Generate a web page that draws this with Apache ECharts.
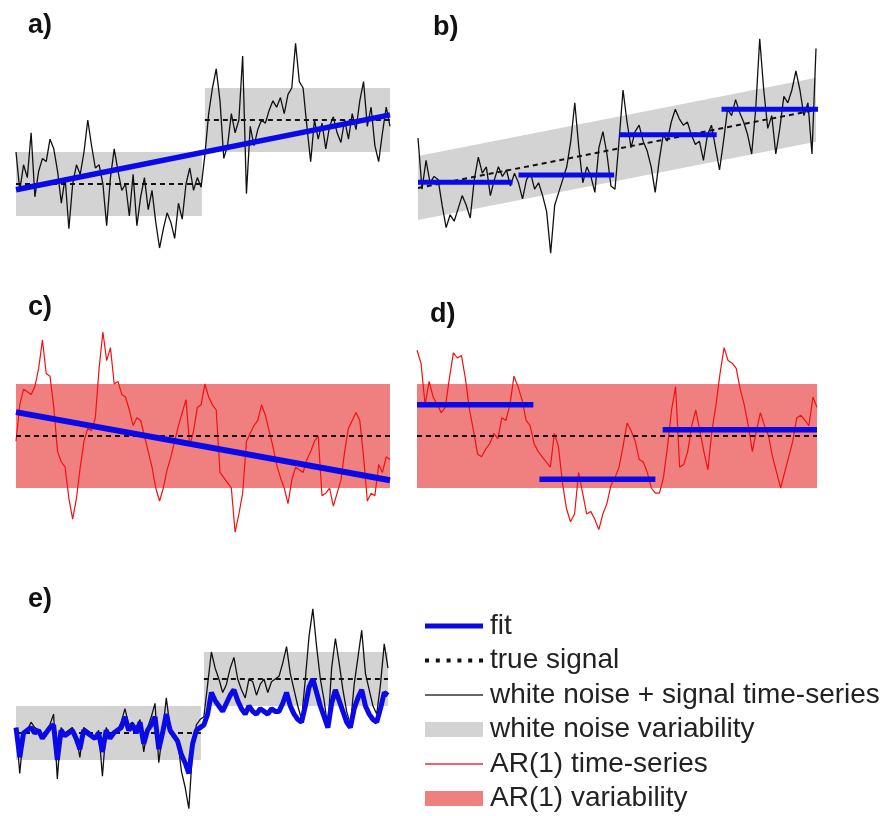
<!DOCTYPE html>
<html><head><meta charset="utf-8">
<script src="https://cdn.jsdelivr.net/npm/echarts@6/dist/echarts.min.js"></script>
<style>html,body{margin:0;padding:0;background:#fff}#c{width:886px;height:816px}</style>
</head><body><div id="c"></div>
<script>
// ---------------- data ----------------
const panelLabels = ['a)', 'b)', 'c)', 'd)', 'e)'];
const legendNames = ['fit', 'true signal', 'white noise + signal time-series', 'white noise variability', 'AR(1) time-series', 'AR(1) variability'];

// panel a: white noise + step signal
const aSeries = [0.5,-0.1,0.3,0.1,0.8,-0.2,0.2,0.4,0.35,0.7,0.55,0.2,-0.3,0.1,-0.7,0.0,0.3,0.15,0.5,1.0,
 0.6,0.25,0.3,0.0,-0.65,0.1,0.55,0.2,-0.1,0.0,-0.5,0.15,-0.65,-0.2,0.1,-0.4,-0.1,-0.6,-1.0,-0.7,
 -0.45,-0.6,-0.85,-0.3,-0.55,0.0,0.25,-0.1,0.1,-0.05,0.45,1.1,1.5,1.8,1.3,0.4,0.6,1.1,0.8,1.0,
 2.0,-0.15,0.9,0.6,0.85,1.0,0.95,1.15,1.3,1.2,1.35,1.1,1.4,1.5,2.2,1.6,1.5,0.9,0.35,1.0,
 0.7,0.95,0.55,0.9,1.05,0.8,0.65,1.0,0.7,1.1,0.85,1.3,1.6,0.9,1.2,0.6,0.35,0.8,1.2,0.9];
const aTrue = [[[0,0],[49.2,0]], [[50,1],[99,1]]];
const aBands = [[0,49.2,-0.5,0.5,-0.5,0.5],[50,99,0.5,1.5,0.5,1.5]];
const aFit = [[[0,-0.09],[99,1.08]]];

// panel b: white noise + trend
const bSeries = [0.75,-0.05,0.4,0.05,0.15,0.1,-0.3,-0.65,-0.45,-0.55,-0.35,-0.15,-0.3,-0.5,0.1,0.45,0.2,0.3,-0.15,0.1,
 0.3,0.15,0.25,0.0,0.2,0.05,-0.2,0.1,0.2,-0.05,0.05,-0.15,-0.4,-1.05,-0.3,-0.1,0.1,0.3,0.7,1.3,
 0.6,0.05,0.3,0.15,-0.1,0.6,0.85,0.5,0.0,-0.05,0.7,1.5,1.0,0.6,0.85,0.95,0.7,0.55,0.3,-0.1,
 0.4,0.8,0.7,1.0,1.2,1.05,0.95,1.0,0.8,0.65,0.7,0.4,0.8,0.95,0.6,0.25,0.7,1.2,1.1,1.35,
 1.15,1.0,0.8,0.5,1.2,2.3,1.5,0.9,1.1,0.5,0.9,1.4,1.3,1.5,1.8,1.5,1.1,1.3,0.5,2.15];
const bTrue = [[[0,-0.03],[99,1.19]]];
const bBands = [[0,99,-0.53,0.47,0.69,1.69]];
const bFit = [[[0,0.06],[23.5,0.06]], [[25,0.17],[48.8,0.17]], [[50,0.8],[74.3,0.8]], [[75.5,1.2],[99.5,1.2]]];

// panel c: AR(1), trend fit
const cSeries = [-0.1,0.6,0.9,0.85,0.8,0.95,1.3,1.85,1.2,1.15,0.55,-0.3,-0.5,-0.6,-1.2,-1.6,-1.2,-0.6,-0.1,0.15,
 0.1,0.35,1.3,2.0,1.45,1.7,1.0,1.05,0.8,0.75,0.5,0.2,0.35,0.3,0.0,-0.3,-0.6,-1.0,-1.25,-1.0,
 -0.65,-0.4,-0.1,0.2,0.45,0.7,-0.2,0.1,0.55,0.6,1.0,0.75,0.6,0.5,-0.7,-0.8,-0.9,-1.0,-1.85,-1.5,
 -1.1,-0.1,0.05,0.2,0.3,0.6,0.4,0.1,-0.2,-0.55,-0.8,-1.0,-1.3,-0.85,-0.6,-0.65,-0.7,-0.45,-0.3,-0.1,
 0.0,-1.15,-1.1,-1.0,-1.35,-1.1,-0.85,-0.3,0.15,0.3,0.45,0.3,-0.4,-1.25,-1.1,-1.15,-0.55,-0.7,-0.4,-0.45];
const cTrue = [[[0,0],[99,0]]];
const cBands = [[0,99,-1,1,-1,1]];
const cFit = [[[0,0.46],[99,-0.85]]];

// panel d: AR(1), step fits
const dSeries = [1.65,1.4,0.6,1.05,0.75,0.6,0.45,0.55,1.1,1.6,1.5,1.55,1.1,0.5,0.1,-0.35,-0.4,-0.25,-0.15,0.05,
 -0.05,0.35,0.3,0.6,1.15,0.95,0.7,0.3,0.2,-0.15,-0.3,-0.4,-0.5,-0.6,0.05,-0.2,-0.9,-1.4,-1.65,-1.5,
 -0.7,-1.1,-1.5,-1.45,-1.6,-1.8,-1.5,-1.3,-0.95,-0.8,-0.6,-0.2,0.25,0.1,-0.1,-0.45,-0.5,-0.7,-1.0,-1.1,
 -1.1,-0.8,-0.2,0.5,0.95,-0.6,-0.55,-0.3,0.2,0.5,0.1,-0.3,-0.65,0.1,0.6,1.2,1.7,1.45,1.4,1.3,
 0.9,0.6,0.2,-0.3,0.1,0.45,0.2,0.0,-0.4,-0.7,-1.0,-0.7,-0.4,-0.1,0.35,0.4,0.3,0.2,0.75,0.55];
const dTrue = [[[0,0],[99,0]]];
const dBands = [[0,99,-1,1,-1,1]];
const dFit = [[[0,0.6],[28.8,0.6]], [[30.3,-0.83],[59,-0.83]], [[60.8,0.12],[99,0.12]]];

// panel e: white noise + step, with fitted series
const eSeries = [0.1,-0.75,0.0,0.05,0.2,0.1,0.05,-0.1,0.0,0.15,0.35,-0.85,0.1,0.0,0.05,0.1,-0.05,-0.45,0.1,0.05,
 0.0,-0.1,0.05,-0.8,0.1,-0.05,0.0,0.05,0.2,0.45,0.15,0.2,0.1,0.25,-0.35,0.1,0.3,0.55,-0.55,0.0,
 0.65,0.1,0.0,-0.1,-0.7,-1.0,-1.4,-0.3,0.15,0.25,0.3,0.9,1.5,1.2,1.0,0.75,0.9,1.2,1.4,1.0,
 0.8,0.65,1.0,0.95,0.7,0.9,1.0,0.75,0.95,1.0,1.05,1.3,1.6,1.1,0.8,0.5,0.25,1.0,1.8,2.3,
 1.6,1.0,0.6,0.1,1.2,1.75,1.3,0.8,0.4,0.15,0.9,1.4,1.9,1.1,0.8,0.5,0.35,0.9,1.65,1.2];
const eFitSeries = [0.1,-0.45,0.0,0.05,0.1,0.0,0.05,-0.1,0.0,0.1,0.15,-0.5,0.05,-0.05,0.0,0.05,-0.1,-0.3,0.05,0.0,
 -0.05,-0.1,0.0,-0.35,0.05,-0.1,0.0,0.05,0.1,0.3,0.05,0.15,0.0,0.2,-0.2,0.05,0.15,0.3,-0.3,0.0,
 0.35,0.05,-0.05,-0.15,-0.4,-0.55,-0.75,-0.2,0.05,0.1,0.15,0.35,0.75,0.6,0.5,0.4,0.55,0.7,0.8,0.6,
 0.45,0.35,0.5,0.4,0.35,0.45,0.4,0.35,0.45,0.4,0.4,0.55,0.75,0.5,0.35,0.25,0.2,0.5,0.85,1.0,
 0.75,0.5,0.3,0.1,0.55,0.8,0.6,0.4,0.2,0.1,0.45,0.65,0.8,0.5,0.35,0.25,0.2,0.45,0.75,0.7];
const eTrue = [[[0,0],[49.2,0]], [[50,1],[99,1]]];
const eBands = [[0,49.2,-0.5,0.5,-0.5,0.5],[50,99,0.5,1.5,0.5,1.5]];

// ---------------- styles / layout ----------------
const BLUE = '#0a0ae8', GRAY = '#d3d3d3', PINK = '#f08080', RED = '#f01010', BLACK = '#111';
const grids = [
  {left: 16,  top: 30.4,  width: 374, height: 230.4, ymin: -1.2, ymax: 2.4},
  {left: 418, top: 32.4,  width: 398, height: 236.8, ymin: -1.3, ymax: 2.4},
  {left: 16,  top: 300.8, width: 374, height: 249.6, ymin: -2.2, ymax: 2.6},
  {left: 417, top: 300.8, width: 400, height: 249.6, ymin: -2.2, ymax: 2.6},
  {left: 16,  top: 598,   width: 372, height: 216,   ymin: -1.5, ymax: 2.5}
];
const labelPos = [[28,12],[433,14],[28,294],[430,301],[28,586]];

const series = [];
function toXY(arr) { return arr.map((v, i) => [i, v]); }
function bandSeries(g, name, color, data) {
  series.push({
    type: 'custom', name: name, xAxisIndex: g, yAxisIndex: g, z: 1, silent: true,
    itemStyle: {color: color},
    encode: {x: [0, 1], y: [2, 3, 4, 5]},
    renderItem: function (params, api) {
      const p0 = api.coord([api.value(0), api.value(2)]);
      const p1 = api.coord([api.value(1), api.value(4)]);
      const p2 = api.coord([api.value(1), api.value(5)]);
      const p3 = api.coord([api.value(0), api.value(3)]);
      return {type: 'polygon', shape: {points: [p0, p1, p2, p3]}, style: {fill: color}};
    },
    data: data
  });
}
function lineSeries(g, name, data, color, width, type, z) {
  series.push({
    type: 'line', name: name, xAxisIndex: g, yAxisIndex: g, z: z, silent: true,
    showSymbol: false, symbol: 'none', animation: false,
    lineStyle: {color: color, width: width, type: type || 'solid', cap: 'butt'},
    itemStyle: {color: color},
    data: data
  });
}
function segs(g, name, segments, color, width, type, z) {
  segments.forEach(s => lineSeries(g, name, s, color, width, type, z));
}

// panel a
bandSeries(0, 'white noise variability', GRAY, aBands);
lineSeries(0, 'white noise + signal time-series', toXY(aSeries), BLACK, 1.3, 'solid', 3);
segs(0, 'true signal', aTrue, BLACK, 2, [5, 4], 4);
segs(0, 'fit', aFit, BLUE, 5.5, 'solid', 5);
// panel b
bandSeries(1, 'white noise variability', GRAY, bBands);
lineSeries(1, 'white noise + signal time-series', toXY(bSeries), BLACK, 1.3, 'solid', 3);
segs(1, 'true signal', bTrue, BLACK, 2, [5, 4], 4);
segs(1, 'fit', bFit, BLUE, 5, 'solid', 5);
// panel c
bandSeries(2, 'AR(1) variability', PINK, cBands);
lineSeries(2, 'AR(1) time-series', toXY(cSeries), RED, 1.2, 'solid', 3);
segs(2, 'true signal', cTrue, BLACK, 2, [5, 4], 4);
segs(2, 'fit', cFit, BLUE, 6, 'solid', 5);
// panel d
bandSeries(3, 'AR(1) variability', PINK, dBands);
lineSeries(3, 'AR(1) time-series', toXY(dSeries), RED, 1.2, 'solid', 3);
segs(3, 'true signal', dTrue, BLACK, 2, [5, 4], 4);
segs(3, 'fit', dFit, BLUE, 5.5, 'solid', 5);
// panel e
bandSeries(4, 'white noise variability', GRAY, eBands);
lineSeries(4, 'white noise + signal time-series', toXY(eSeries), BLACK, 1.3, 'solid', 3);
segs(4, 'true signal', eTrue, BLACK, 2, [5, 4], 4);
lineSeries(4, 'fit', toXY(eFitSeries), BLUE, 5, 'solid', 5);

const FONT = '"Liberation Sans", Arial, Helvetica, sans-serif';
const ICON_FIT = 'path://M0,0h58v5h-58z';
const ICON_THIN = 'path://M0,0h58v1.6h-58z';
const ICON_DOTS = 'path://M0,0h4v4h-4z M10.8,0h4v4h-4z M21.6,0h4v4h-4z M32.4,0h4v4h-4z M43.2,0h4v4h-4z M54,0h4v4h-4z';
const option = {
  animation: false,
  backgroundColor: '#fff',
  title: panelLabels.map((t, i) => ({
    text: t, left: labelPos[i][0], top: labelPos[i][1], padding: 0,
    textStyle: {fontFamily: FONT, fontWeight: 'bold', fontSize: 27, color: '#111'}
  })),
  grid: grids.map(g => ({left: g.left, top: g.top, width: g.width, height: g.height})),
  xAxis: grids.map((g, i) => ({type: 'value', gridIndex: i, min: 0, max: 99, show: false})),
  yAxis: grids.map((g, i) => ({type: 'value', gridIndex: i, min: g.ymin, max: g.ymax, show: false})),
  legend: {
    orient: 'vertical', left: 425, top: 612, padding: 0,
    itemWidth: 58, itemHeight: 15, itemGap: 6.5, selectedMode: false, symbolKeepAspect: true,
    textStyle: {fontFamily: FONT, fontSize: 28, color: '#222', lineHeight: 28, padding: [0, 0, 0, 2]},
    data: [
      {name: legendNames[0], icon: ICON_FIT, itemStyle: {color: BLUE, borderWidth: 0}},
      {name: legendNames[1], icon: ICON_DOTS, itemStyle: {color: BLACK, borderWidth: 0}},
      {name: legendNames[2], icon: ICON_THIN, itemStyle: {color: '#333', borderWidth: 0}},
      {name: legendNames[3], icon: 'rect', itemStyle: {color: GRAY, borderWidth: 0}},
      {name: legendNames[4], icon: ICON_THIN, itemStyle: {color: '#e8303c', borderWidth: 0}},
      {name: legendNames[5], icon: 'rect', itemStyle: {color: PINK, borderWidth: 0}}
    ]
  },
  series: series
};
const chart = echarts.init(document.getElementById('c'), null, {renderer: 'canvas'});
chart.setOption(option);
</script></body></html>
